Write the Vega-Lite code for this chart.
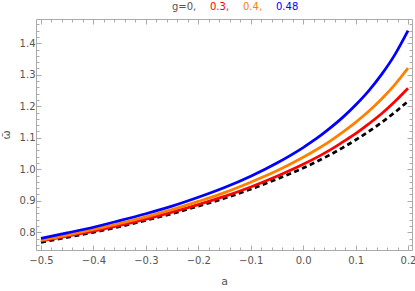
{
  "$schema": "https://vega.github.io/schema/vega-lite/v6.json",
  "width": 376,
  "height": 231,
  "autosize": "none",
  "padding": {"left": 36, "top": 19, "right": 3, "bottom": 41},
  "background": "white",
  "config": {
    "view": {"stroke": "#aaaaaa", "strokeWidth": 1},
    "font": "DejaVu Sans",
    "axis": {
      "domain": false,
      "grid": false,
      "tickColor": "#aaaaaa",
      "tickWidth": 1,
      "labelColor": "#555555",
      "labelFont": "DejaVu Sans",
      "labelFontSize": 10,
      "titleFont": "DejaVu Sans",
      "titleFontSize": 11,
      "titleFontWeight": "normal",
      "titleColor": "#555555",
      "labelFlush": false,
      "labelOverlap": false
    }
  },
  "data": {
    "values": [
      {"a": -0.5, "g": "0", "w": 0.768}, {"a": -0.45, "g": "0", "w": 0.784}, {"a": -0.4, "g": "0", "w": 0.8}, {"a": -0.35, "g": "0", "w": 0.818}, {"a": -0.3, "g": "0", "w": 0.838}, {"a": -0.25, "g": "0", "w": 0.859}, {"a": -0.2, "g": "0", "w": 0.883}, {"a": -0.15, "g": "0", "w": 0.908}, {"a": -0.1, "g": "0", "w": 0.937}, {"a": -0.05, "g": "0", "w": 0.969}, {"a": 0, "g": "0", "w": 1.004}, {"a": 0.025, "g": "0", "w": 1.024}, {"a": 0.05, "g": "0", "w": 1.045}, {"a": 0.075, "g": "0", "w": 1.068}, {"a": 0.1, "g": "0", "w": 1.093}, {"a": 0.125, "g": "0", "w": 1.12}, {"a": 0.15, "g": "0", "w": 1.149}, {"a": 0.175, "g": "0", "w": 1.181}, {"a": 0.2, "g": "0", "w": 1.216},
      {"a": -0.5, "g": "0.3", "w": 0.772}, {"a": -0.45, "g": "0.3", "w": 0.788}, {"a": -0.4, "g": "0.3", "w": 0.804}, {"a": -0.35, "g": "0.3", "w": 0.822}, {"a": -0.3, "g": "0.3", "w": 0.842}, {"a": -0.25, "g": "0.3", "w": 0.864}, {"a": -0.2, "g": "0.3", "w": 0.888}, {"a": -0.15, "g": "0.3", "w": 0.914}, {"a": -0.1, "g": "0.3", "w": 0.944}, {"a": -0.05, "g": "0.3", "w": 0.978}, {"a": 0, "g": "0.3", "w": 1.016}, {"a": 0.025, "g": "0.3", "w": 1.037}, {"a": 0.05, "g": "0.3", "w": 1.06}, {"a": 0.075, "g": "0.3", "w": 1.086}, {"a": 0.1, "g": "0.3", "w": 1.113}, {"a": 0.125, "g": "0.3", "w": 1.144}, {"a": 0.15, "g": "0.3", "w": 1.177}, {"a": 0.175, "g": "0.3", "w": 1.215}, {"a": 0.2, "g": "0.3", "w": 1.257},
      {"a": -0.5, "g": "0.4", "w": 0.775}, {"a": -0.45, "g": "0.4", "w": 0.791}, {"a": -0.4, "g": "0.4", "w": 0.809}, {"a": -0.35, "g": "0.4", "w": 0.828}, {"a": -0.3, "g": "0.4", "w": 0.849}, {"a": -0.25, "g": "0.4", "w": 0.872}, {"a": -0.2, "g": "0.4", "w": 0.898}, {"a": -0.15, "g": "0.4", "w": 0.926}, {"a": -0.1, "g": "0.4", "w": 0.959}, {"a": -0.05, "g": "0.4", "w": 0.995}, {"a": 0, "g": "0.4", "w": 1.038}, {"a": 0.025, "g": "0.4", "w": 1.062}, {"a": 0.05, "g": "0.4", "w": 1.088}, {"a": 0.075, "g": "0.4", "w": 1.117}, {"a": 0.1, "g": "0.4", "w": 1.149}, {"a": 0.125, "g": "0.4", "w": 1.184}, {"a": 0.15, "g": "0.4", "w": 1.224}, {"a": 0.175, "g": "0.4", "w": 1.269}, {"a": 0.2, "g": "0.4", "w": 1.321},
      {"a": -0.5, "g": "0.48", "w": 0.781}, {"a": -0.45, "g": "0.48", "w": 0.798}, {"a": -0.4, "g": "0.48", "w": 0.816}, {"a": -0.35, "g": "0.48", "w": 0.837}, {"a": -0.3, "g": "0.48", "w": 0.859}, {"a": -0.25, "g": "0.48", "w": 0.883}, {"a": -0.2, "g": "0.48", "w": 0.911}, {"a": -0.15, "g": "0.48", "w": 0.942}, {"a": -0.1, "g": "0.48", "w": 0.978}, {"a": -0.05, "g": "0.48", "w": 1.02}, {"a": 0, "g": "0.48", "w": 1.069}, {"a": 0.025, "g": "0.48", "w": 1.097}, {"a": 0.05, "g": "0.48", "w": 1.129}, {"a": 0.075, "g": "0.48", "w": 1.164}, {"a": 0.1, "g": "0.48", "w": 1.204}, {"a": 0.125, "g": "0.48", "w": 1.249}, {"a": 0.15, "g": "0.48", "w": 1.302}, {"a": 0.175, "g": "0.48", "w": 1.364}, {"a": 0.2, "g": "0.48", "w": 1.44}
    ]
  },
  "encoding": {
    "color": {
      "field": "g",
      "type": "nominal",
      "scale": {"domain": ["0", "0.3", "0.4", "0.48"], "range": ["#000000", "#FF0000", "#FF8000", "#0000FF"]},
      "legend": {
        "orient": "none",
        "legendX": 126,
        "legendY": -17,
        "direction": "horizontal",
        "gridAlign": "none",
        "title": null,
        "symbolType": "circle",
        "symbolSize": 0,
        "symbolOpacity": 0,
        "symbolStrokeWidth": 0,
        "labelOffset": 0,
        "columnPadding": 3,
        "labelFont": "DejaVu Sans",
        "labelFontSize": 10,
        "labelExpr": "datum.label == '0' ? 'g=0,' : (datum.label == '0.48' ? datum.label : datum.label + ',')",
        "encode": {"labels": {"update": {"fill": {"signal": "datum.value == '0.3' ? '#FF0000' : datum.value == '0.4' ? '#FF8000' : datum.value == '0.48' ? '#0000FF' : '#555555'"}}}}
      }
    }
  },
  "layer": [
    {
      "transform": [{"filter": "datum.g == '0'"}],
      "mark": {"type": "line", "strokeWidth": 2.75, "strokeDash": [5, 3.5], "interpolate": "monotone", "clip": true},
      "encoding": {
        "x": {
          "field": "a", "type": "quantitative",
          "scale": {"domain": [-0.5095, 0.2076], "nice": false, "zero": false},
          "axis": {
            "orient": "bottom",
            "title": "a",
            "values": [-0.5, -0.48, -0.46, -0.44, -0.42, -0.4, -0.38, -0.36, -0.34, -0.32, -0.3, -0.28, -0.26, -0.24, -0.22, -0.2, -0.18, -0.16, -0.14, -0.12, -0.1, -0.08, -0.06, -0.04, -0.02, 0, 0.02, 0.04, 0.06, 0.08, 0.1, 0.12, 0.14, 0.16, 0.18, 0.2],
            "labelExpr": "abs(datum.value*10 - round(datum.value*10)) < 0.000001 ? format(datum.value, '.1f') : ''",
            "tickSize": {"condition": {"test": "abs(datum.value*10 - round(datum.value*10)) < 0.000001", "value": -5}, "value": -3},
            "labelPadding": 10,
            "titlePadding": 8
          }
        },
        "y": {
          "field": "w", "type": "quantitative",
          "scale": {"domain": [0.7438, 1.477], "nice": false, "zero": false},
          "axis": {
            "orient": "left",
            "title": "ω̄",
            "values": [0.76, 0.78, 0.8, 0.82, 0.84, 0.86, 0.88, 0.9, 0.92, 0.94, 0.96, 0.98, 1.0, 1.02, 1.04, 1.06, 1.08, 1.1, 1.12, 1.14, 1.16, 1.18, 1.2, 1.22, 1.24, 1.26, 1.28, 1.3, 1.32, 1.34, 1.36, 1.38, 1.4, 1.42, 1.44, 1.46],
            "labelExpr": "abs(datum.value*10 - round(datum.value*10)) < 0.000001 ? format(datum.value, '.1f') : ''",
            "tickSize": {"condition": {"test": "abs(datum.value*10 - round(datum.value*10)) < 0.000001", "value": -5}, "value": -3},
            "labelPadding": 6,
            "titlePadding": 8
          }
        }
      }
    },
    {
      "transform": [{"filter": "datum.g != '0'"}],
      "mark": {"type": "line", "strokeWidth": 2.75, "interpolate": "monotone", "clip": true},
      "encoding": {
        "x": {
          "field": "a", "type": "quantitative",
          "scale": {"domain": [-0.5095, 0.2076], "nice": false, "zero": false},
          "axis": {
            "orient": "top",
            "title": null,
            "labels": false,
            "values": [-0.5, -0.48, -0.46, -0.44, -0.42, -0.4, -0.38, -0.36, -0.34, -0.32, -0.3, -0.28, -0.26, -0.24, -0.22, -0.2, -0.18, -0.16, -0.14, -0.12, -0.1, -0.08, -0.06, -0.04, -0.02, 0, 0.02, 0.04, 0.06, 0.08, 0.1, 0.12, 0.14, 0.16, 0.18, 0.2],
            "tickSize": {"condition": {"test": "abs(datum.value*10 - round(datum.value*10)) < 0.000001", "value": -5}, "value": -3}
          }
        },
        "y": {
          "field": "w", "type": "quantitative",
          "scale": {"domain": [0.7438, 1.477], "nice": false, "zero": false},
          "axis": {
            "orient": "right",
            "title": null,
            "labels": false,
            "values": [0.76, 0.78, 0.8, 0.82, 0.84, 0.86, 0.88, 0.9, 0.92, 0.94, 0.96, 0.98, 1.0, 1.02, 1.04, 1.06, 1.08, 1.1, 1.12, 1.14, 1.16, 1.18, 1.2, 1.22, 1.24, 1.26, 1.28, 1.3, 1.32, 1.34, 1.36, 1.38, 1.4, 1.42, 1.44, 1.46],
            "tickSize": {"condition": {"test": "abs(datum.value*10 - round(datum.value*10)) < 0.000001", "value": -5}, "value": -3}
          }
        }
      }
    }
  ],
  "resolve": {"axis": {"x": "independent", "y": "independent"}}
}
